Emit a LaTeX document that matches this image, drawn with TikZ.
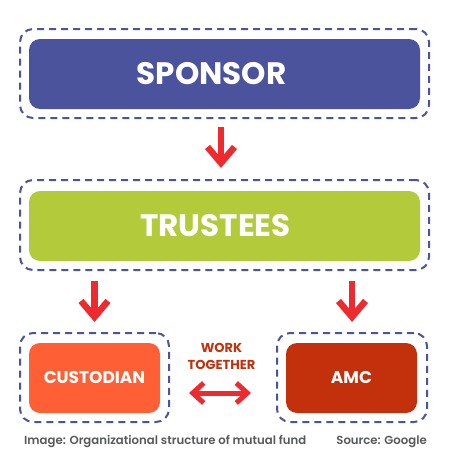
\documentclass[tikz,border=0pt]{standalone}
\usepackage{fontspec}
\setmainfont{Poppins}
\newfontfamily\capfont{Poppins}[UprightFont=* SemiBold]
\usetikzlibrary{arrows.meta}
\definecolor{sponsorblue}{HTML}{4A539C}
\definecolor{trustgreen}{HTML}{B3CB3B}
\definecolor{custorange}{HTML}{FE5F35}
\definecolor{amcred}{HTML}{C3300C}
\definecolor{arrowred}{HTML}{EE2A2F}
\definecolor{capgray}{HTML}{58595B}

\begin{document}
\begin{tikzpicture}[x=1pt,y=-1pt,
  dashfrm/.style={draw=sponsorblue,line width=2pt,dash pattern=on 7pt off 5pt,rounded corners=13pt,minimum height=89pt,inner sep=0pt},
  unitbox/.style={rounded corners=11pt,text=white,font=\bfseries,minimum height=70pt,inner sep=0pt},
  downarrow/.style={draw=arrowred,line width=6.5pt,-{Straight Barb[length=16pt,width=27pt]}},
  twoarrow/.style={draw=arrowred,line width=5pt,{Straight Barb[length=11pt,width=20pt]}-{Straight Barb[length=11pt,width=20pt]}}]
\useasboundingbox (0,0) rectangle (450,450);

\node[dashfrm,minimum width=409pt] (sponsorfrm) at (224.5,73.5) {};
\node[unitbox,fill=sponsorblue,minimum width=391pt,font=\bfseries\fontsize{31}{36}\selectfont] (sponsor) at (224.5,74) {\hspace*{-26pt}SPONSOR};
\node[dashfrm,minimum width=409pt,minimum height=90pt] (trustfrm) at (224.5,225) {};
\node[unitbox,fill=trustgreen,minimum width=391pt,font=\bfseries\fontsize{31}{36}\selectfont] (trust) at (224.5,226) {\hspace*{-18pt}TRUSTEES};
\node[dashfrm,minimum width=149pt] (custfrm) at (94.5,377.5) {};
\node[unitbox,fill=custorange,minimum width=131pt,font=\bfseries\fontsize{17}{20}\selectfont] (cust) at (94.5,378) {CUSTODIAN};
\node[dashfrm,minimum width=150pt] (amcfrm) at (352,377.5) {};
\node[unitbox,fill=amcred,minimum width=131pt,font=\bfseries\fontsize{17}{20}\selectfont] (amc) at (351.5,378) {AMC};

\draw[downarrow,shorten <=8pt,shorten >=11pt] ([xshift=-3.5pt]sponsorfrm.south) -- ([xshift=-3.5pt]trustfrm.north);
\draw[downarrow,shorten <=10pt,shorten >=10pt] (trustfrm.south -| custfrm.north) -- (custfrm.north);
\draw[downarrow,shorten <=10pt,shorten >=10pt] (trustfrm.south -| amcfrm.north) -- (amcfrm.north);

\node[text=amcred,font=\bfseries\fontsize{13}{17}\selectfont,align=center] (work) at (221.5,356) {WORK\\TOGETHER};
\draw[twoarrow,shorten <=19pt,shorten >=25pt] ([yshift=-15.5pt]custfrm.east) -- ([yshift=-15.5pt]amcfrm.west);

\node[anchor=base west,text=capgray,font=\capfont\fontsize{11.7}{13}\selectfont,inner sep=0pt] (capleft) at (24,444) {Image: Organizational structure of mutual fund};
\node[anchor=base east,text=capgray,font=\capfont\fontsize{11.7}{13}\selectfont,inner sep=0pt] (capright) at (427,444) {Source: Google};
\end{tikzpicture}
\end{document}
